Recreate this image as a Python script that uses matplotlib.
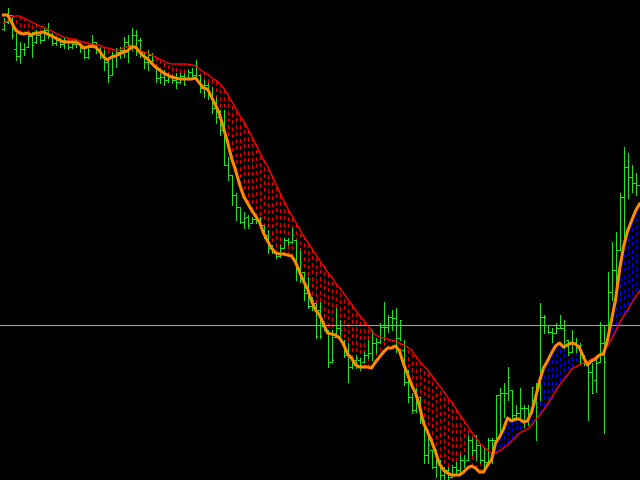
# Bar chart with fast / slow moving averages and a hatched band between them
import numpy as np
import matplotlib
matplotlib.use("Agg")
import matplotlib.pyplot as plt
from matplotlib.collections import LineCollection

# Price data (points), one value per bar
high = [482, 492, 485, 467, 458, 457, 468, 468, 470, 468,
        473, 477, 467, 463, 462, 462, 458, 457, 460, 457,
        453, 453, 465, 458, 453, 450, 443, 448, 452, 453,
        463, 465, 472, 470, 462, 448, 450, 447, 433, 427,
        430, 427, 425, 427, 427, 427, 430, 432, 440, 425,
        420, 417, 413, 403, 390, 390, 343, 325, 307, 293,
        288, 285, 283, 285, 283, 275, 270, 255, 248, 255,
        262, 262, 272, 260, 250, 228, 223, 203, 197, 198,
        177, 170, 170, 192, 180, 160, 157, 143, 145, 142,
        148, 160, 170, 162, 177, 198, 185, 190, 192, 180,
        160, 130, 107, 112, 103, 80, 63, 50, 50, 40,
        33, 33, 35, 38, 45, 45, 65, 62, 65, 55,
        52, 62, 62, 105, 112, 117, 133, 110, 95, 112,
        95, 95, 113, 117, 197, 185, 175, 172, 177, 185,
        180, 160, 170, 162, 157, 145, 135, 137, 145, 178,
        175, 228, 258, 268, 307, 353, 347, 335, 327, 317]

low = [470, 477, 462, 440, 437, 445, 453, 443, 457, 457,
       460, 462, 455, 455, 453, 452, 451, 452, 453, 448,
       442, 442, 453, 447, 442, 430, 418, 425, 433, 442,
       443, 438, 450, 445, 443, 432, 430, 435, 418, 417,
       415, 418, 417, 412, 417, 415, 422, 422, 423, 408,
       403, 401, 387, 377, 365, 335, 320, 295, 280, 277,
       272, 272, 277, 277, 278, 262, 247, 247, 242, 243,
       252, 255, 257, 220, 218, 200, 192, 190, 162, 162,
       170, 133, 138, 163, 160, 143, 118, 132, 132, 130,
       138, 142, 140, 147, 157, 160, 168, 170, 148, 160,
       115, 98, 87, 88, 77, 37, 37, 32, 23, 20,
       20, 20, 23, 27, 28, 33, 40, 45, 40, 37,
       32, 38, 37, 60, 67, 83, 100, 82, 80, 82,
       73, 75, 87, 60, 100, 167, 167, 158, 167, 172,
       152, 145, 148, 148, 137, 135, 80, 107, 108, 138,
       67, 160, 200, 207, 250, 260, 302, 308, 305, 305]

open_ = [471, 478, 485, 451, 444, 451, 453, 464, 458, 465,
         460, 470, 466, 457, 460, 456, 458, 453, 456, 457,
         452, 443, 453, 458, 450, 445, 438, 425, 445, 448,
         450, 458, 455, 465, 460, 448, 438, 445, 433, 422,
         423, 420, 424, 420, 418, 424, 422, 428, 425, 425,
         412, 415, 405, 392, 383, 370, 335, 325, 305, 293,
         278, 283, 277, 281, 280, 275, 265, 252, 248, 244,
         252, 260, 258, 260, 232, 228, 207, 194, 197, 190,
         174, 170, 138, 163, 172, 155, 145, 133, 140, 140,
         138, 145, 147, 157, 158, 173, 173, 183, 182, 162,
         150, 118, 103, 90, 103, 80, 45, 50, 33, 38,
         25, 30, 23, 33, 30, 40, 40, 60, 50, 55,
         40, 38, 60, 60, 105, 107, 107, 110, 85, 87,
         92, 92, 87, 105, 113, 183, 175, 168, 167, 172,
         172, 160, 148, 157, 155, 142, 135, 128, 120, 138,
         157, 160, 208, 230, 250, 303, 333, 323, 317, 315]

close = [478, 485, 465, 444, 451, 451, 464, 455, 465, 460,
         470, 466, 457, 460, 456, 460, 453, 456, 457, 452,
         443, 450, 458, 450, 445, 438, 423, 445, 448, 450,
         458, 455, 465, 465, 460, 438, 445, 440, 422, 423,
         420, 424, 420, 418, 424, 416, 428, 425, 434, 412,
         415, 405, 392, 383, 370, 335, 325, 305, 293, 278,
         282, 275, 281, 280, 282, 265, 252, 250, 244, 252,
         260, 258, 265, 232, 238, 207, 194, 200, 164, 164,
         172, 138, 140, 172, 170, 145, 133, 140, 142, 135,
         145, 147, 157, 158, 173, 173, 183, 182, 162, 180,
         118, 103, 90, 105, 80, 45, 55, 33, 38, 25,
         30, 23, 33, 30, 40, 38, 60, 50, 55, 40,
         38, 60, 60, 105, 107, 107, 123, 85, 87, 92,
         92, 83, 113, 93, 183, 183, 168, 167, 172, 172,
         170, 148, 157, 155, 155, 138, 128, 107, 137, 157,
         138, 208, 230, 250, 303, 333, 323, 317, 315, 313]

# fast moving average (orange)
fast_ma = [485, 485, 478, 470, 467, 466, 467, 465, 467, 467,
           468, 466, 464, 462, 460, 458, 458, 458, 458, 456,
           452, 453, 454, 453, 449, 443, 440, 443, 444, 446,
           448, 449, 453, 453, 448, 444, 441, 437, 433, 430,
           427, 425, 423, 422, 421, 421, 421, 421, 422, 417,
           412, 411, 403, 395, 386, 372, 358, 342, 330, 316,
           304, 297, 290, 284, 278, 267, 259, 252, 247, 246,
           246, 245, 244, 238, 228, 219, 211, 199, 190, 185,
           176, 167, 166, 165, 162, 156, 146, 142, 135, 133,
           133, 133, 132, 138, 143, 148, 152, 152, 154, 149,
           136, 126, 115, 107, 94, 77, 68, 59, 48, 36,
           30, 27, 25, 25, 25, 28, 32, 34, 32, 28,
           28, 35, 40, 57, 63, 71, 82, 79, 81, 81,
           78, 79, 88, 102, 119, 132, 139, 147, 154, 157,
           153, 155, 157, 156, 152, 143, 135, 139, 141, 145,
           146, 160, 180, 200, 230, 253, 269, 279, 289, 296]

# slow moving average (red)
slow_ma = [477, 479, 483, 484, 484, 482, 480, 478, 476, 474,
           473, 471, 469, 467, 465, 463, 462, 461, 461, 459,
           458, 457, 456, 455, 455, 453, 452, 451, 450, 450,
           452, 453, 454, 452, 450, 448, 447, 445, 443, 441,
           439, 437, 436, 436, 436, 436, 436, 435, 434, 431,
           428, 426, 422, 420, 417, 412, 406, 399, 392, 385,
           379, 372, 364, 356, 348, 340, 334, 325, 317, 308,
           300, 292, 285, 278, 271, 264, 258, 252, 246, 240,
           234, 228, 223, 217, 212, 207, 201, 196, 190, 185,
           180, 175, 169, 165, 163, 162, 161, 160, 159, 157,
           155, 153, 150, 144, 139, 134, 130, 125, 119, 114,
           109, 103, 98, 92, 86, 80, 74, 68, 63, 57,
           53, 50, 47, 47, 49, 52, 55, 59, 63, 67,
           69, 71, 75, 80, 85, 90, 96, 102, 109, 115,
           120, 125, 131, 133, 135, 137, 138, 141, 143, 145,
           149, 154, 161, 169, 177, 184, 190, 197, 203, 209]

level = 175  # horizontal price line

x = np.arange(len(high))

fig = plt.figure(figsize=(6.4, 4.8), dpi=100, facecolor="black")
ax = fig.add_axes([0, 0, 1, 1])
ax.set_facecolor("black")

# hatch between the two averages, red when fast is below, blue when above
hatch_segs = [[(i, f), (i, s)] for i, f, s in zip(x, fast_ma, slow_ma)]
hatch_cols = ["#e00000" if f < s else "#0000e0" for f, s in zip(fast_ma, slow_ma)]
ax.add_collection(LineCollection(hatch_segs, colors=hatch_cols, linewidths=0.72,
                                 linestyles=[(0, (4, 3))], antialiaseds=False, zorder=1))

ax.axhline(level, color="#a0a0a0", lw=0.8, zorder=2)

# OHLC bars
bar_segs = []
for i, h, l, o, c in zip(x, high, low, open_, close):
    bar_segs.append([(i, l), (i, h)])
    bar_segs.append([(i - 0.45, o), (i, o)])
    bar_segs.append([(i, c), (i + 0.45, c)])
ax.add_collection(LineCollection(bar_segs, colors="#22e022", linewidths=0.72,
                                 antialiaseds=False, zorder=3))

# moving averages
ax.plot(x, slow_ma, color="#ff0000", lw=1.0, zorder=4)
ax.plot(x, fast_ma, color="#ff8c00", lw=2.2, zorder=5)

ax.set_xlim(-0.875, 159.125)
ax.set_ylim(20, 500)
ax.axis("off")

plt.savefig("out.png", dpi=100, facecolor="black")
